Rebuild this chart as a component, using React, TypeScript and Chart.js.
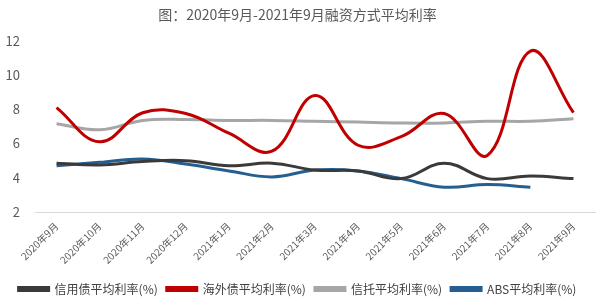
import React, { useEffect, useRef } from "react";
import { Chart, registerables } from "chart.js";

Chart.register(...registerables);

const categories = [
  "2020年9月", "2020年10月", "2020年11月", "2020年12月", "2021年1月", "2021年2月",
  "2021年3月", "2021年4月", "2021年5月", "2021年6月", "2021年7月", "2021年8月", "2021年9月",
];
const creditBond = [4.85, 4.75, 4.95, 5.0, 4.7, 4.85, 4.45, 4.4, 3.95, 4.85, 3.95, 4.1, 3.95];
const overseasBond = [8.1, 6.1, 7.8, 7.75, 6.6, 5.55, 8.8, 5.9, 6.4, 7.75, 5.3, 11.4, 7.8];
const trust = [7.15, 6.8, 7.35, 7.4, 7.35, 7.35, 7.3, 7.25, 7.2, 7.2, 7.3, 7.3, 7.45];
const abs = [4.7, 4.9, 5.1, 4.8, 4.4, 4.05, 4.45, 4.4, 3.95, 3.45, 3.6, 3.45, null];
const seriesNames = ["信用债平均利率(%)", "海外债平均利率(%)", "信托平均利率(%)", "ABS平均利率(%)"];
const yTicks = [2, 4, 6, 8, 10, 12];
const titleText = "图：2020年9月-2021年9月融资方式平均利率";

const FONT = "'Noto Sans CJK SC', 'Noto Sans', sans-serif";

export default function App() {
  const ref = useRef<HTMLCanvasElement | null>(null);
  useEffect(() => {
    document.body.style.margin = "0";
    const colors = ["#3a3a3a", "#c00000", "#a6a6a6", "#255e91"];
    const data = [creditBond, overseasBond, trust, abs];
    const chart = new Chart(ref.current as HTMLCanvasElement, {
      type: "line",
      data: {
        labels: categories,
        datasets: seriesNames.map((n, i) => ({
          label: n,
          data: data[i] as any,
          borderColor: colors[i],
          backgroundColor: colors[i],
          borderWidth: 3,
          tension: 0.4,
          pointRadius: 0,
          fill: false,
        })),
      },
      options: {
        animation: false,
        responsive: true,
        maintainAspectRatio: false,
        layout: { padding: { left: 0, right: 5, top: 0, bottom: 2 } },
        plugins: {
          title: {
            display: true,
            text: titleText,
            color: "#595959",
            font: { family: FONT, size: 14, weight: "normal" },
            padding: { top: 6, bottom: 18 },
          },
          legend: {
            position: "bottom",
            labels: {
              color: "#404040",
              font: { family: FONT, size: 12 },
              boxWidth: 30,
              boxHeight: 3,
              padding: 9,
            },
          },
          tooltip: { enabled: false },
        },
        scales: {
          x: {
            offset: true,
            grid: { display: false, drawTicks: false },
            border: { display: true, color: "#d9d9d9", width: 1 },
            afterFit: (scale: any) => {
              scale.paddingLeft = 0;
              scale.paddingRight = 0;
              scale.height = 62;
            },
            ticks: {
              color: "#595959",
              font: { family: FONT, size: 10 },
              maxRotation: 45,
              minRotation: 45,
              autoSkip: false,
              padding: 8,
            },
          },
          y: {
            min: 2,
            max: 12,
            afterBuildTicks: (axis: any) => {
              axis.ticks = yTicks.map((v) => ({ value: v }));
            },
            afterFit: (scale: any) => {
              scale.width = 35;
            },
            grid: { display: false, drawTicks: false },
            border: { display: false },
            ticks: {
              color: "#595959",
              font: { family: FONT, size: 13 },
              padding: 15,
            },
          },
        },
      },
    });
    return () => chart.destroy();
  }, []);
  return (
    <div style={{ width: 600, height: 307, position: "relative" }}>
      <canvas ref={ref} />
    </div>
  );
}
